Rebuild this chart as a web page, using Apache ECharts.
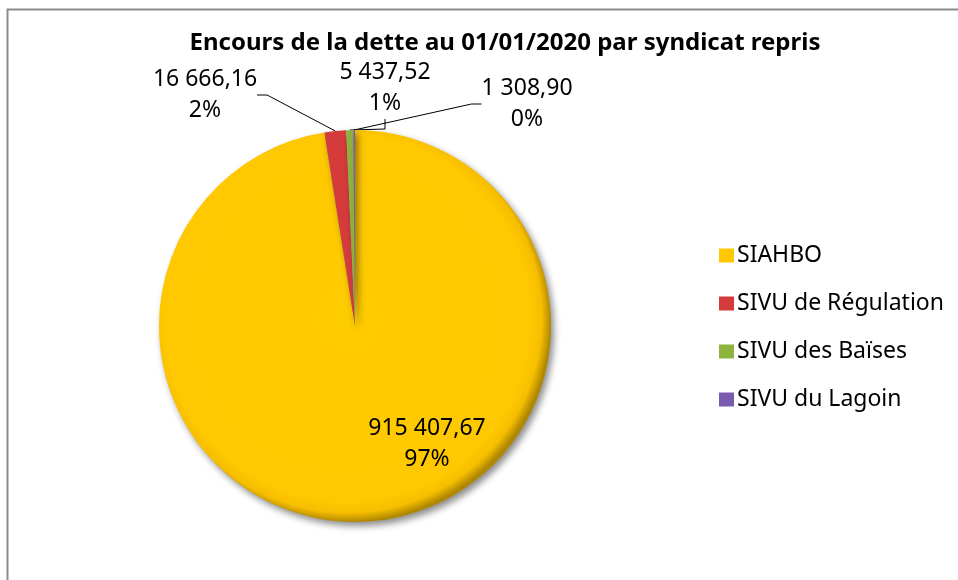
<!DOCTYPE html>
<html>
<head>
<meta charset="utf-8">
<script src="https://cdn.jsdelivr.net/npm/echarts@6/dist/echarts.min.js"></script>
<style>
  html, body { margin: 0; padding: 0; background: #fff; }
  #chart { width: 958px; height: 580px; }
</style>
</head>
<body>
<div id="chart"></div>
<script>
// données
const syndicats = ['SIAHBO', 'SIVU de Régulation', 'SIVU des Baïses', 'SIVU du Lagoin'];
const encours = [915407.67, 16666.16, 5437.52, 1308.90];
const couleurs = ['#FFC800', '#D63B3B', '#8DB43E', '#7B5BB0'];

// où poser les étiquettes (centre du bloc de texte)
const labelSpots = [[427, 444], [205, 95], [385, 88], [527, 104]];

// 915407.67 -> "915 407,67"
function fmtFr(v) {
  const parts = v.toFixed(2).split('.');
  const ent = parts[0].replace(/\B(?=(\d{3})+(?!\d))/g, ' ');
  return ent + ',' + parts[1];
}

const chart = echarts.init(document.getElementById('chart'));

const pieData = syndicats.map((name, i) => {
  const item = { name: name, value: encours[i], itemStyle: { color: couleurs[i] } };
  if (i === 0) {
    item.itemStyle.color = {
      type: 'radial', x: 0.48, y: 0.48, r: 0.52,
      colorStops: [
        { offset: 0, color: '#FFCC00' },
        { offset: 0.9, color: '#FFC800' },
        { offset: 0.955, color: '#F6BE00' },
        { offset: 1, color: '#B08800' }
      ]
    };
    item.label = { position: 'inside' };
    item.labelLine = { show: false };
  }
  return item;
});

const option = {
  backgroundColor: '#fff',
  animation: false,
  title: {
    text: 'Encours de la dette au 01/01/2020 par syndicat repris',
    left: 500,
    top: 26,
    textAlign: 'center',
    textStyle: { fontFamily: 'Noto Sans', fontSize: 24, fontWeight: 'bold', color: '#000' }
  },
  legend: {
    orient: 'vertical',
    left: 714,
    top: 239,
    icon: 'rect',
    itemWidth: 15,
    itemHeight: 14,
    itemGap: 25,
    textStyle: { fontFamily: 'Noto Sans', fontSize: 23, lineHeight: 23, color: '#000', padding: [0, 0, 0, -2] },
    data: syndicats.map((n, i) => ({ name: n, itemStyle: { color: couleurs[i] } }))
  },
  graphic: [{
    type: 'rect',
    left: 5, top: 7,
    shape: { width: 1000, height: 1000 },
    style: { fill: 'none', stroke: '#8c8c8c', lineWidth: 2 },
    silent: true
  }],
  series: [{
    type: 'pie',
    center: [355, 326],
    radius: 196,
    startAngle: 90,
    clockwise: true,
    percentPrecision: 0,
    avoidLabelOverlap: false,
    itemStyle: {
      shadowColor: 'rgba(0,0,0,0.45)',
      shadowBlur: 7,
      shadowOffsetX: 3,
      shadowOffsetY: 4
    },
    label: {
      show: true,
      position: 'outside',
      fontFamily: 'Noto Sans',
      fontSize: 23,
      lineHeight: 31,
      color: '#000',
      align: 'center',
      formatter: p => fmtFr(p.value) + '\n' + p.percent + '%'
    },
    labelLine: {
      show: true,
      length: 10,
      length2: 10,
      lineStyle: { color: '#000', width: 1 }
    },
    labelLayout: function (params) {
      const s = labelSpots[params.dataIndex];
      return { x: s[0], y: s[1], align: 'center', verticalAlign: 'middle', hideOverlap: false, moveOverlap: null };
    },
    data: pieData
  }]
};

chart.setOption(option);
</script>
</body>
</html>
